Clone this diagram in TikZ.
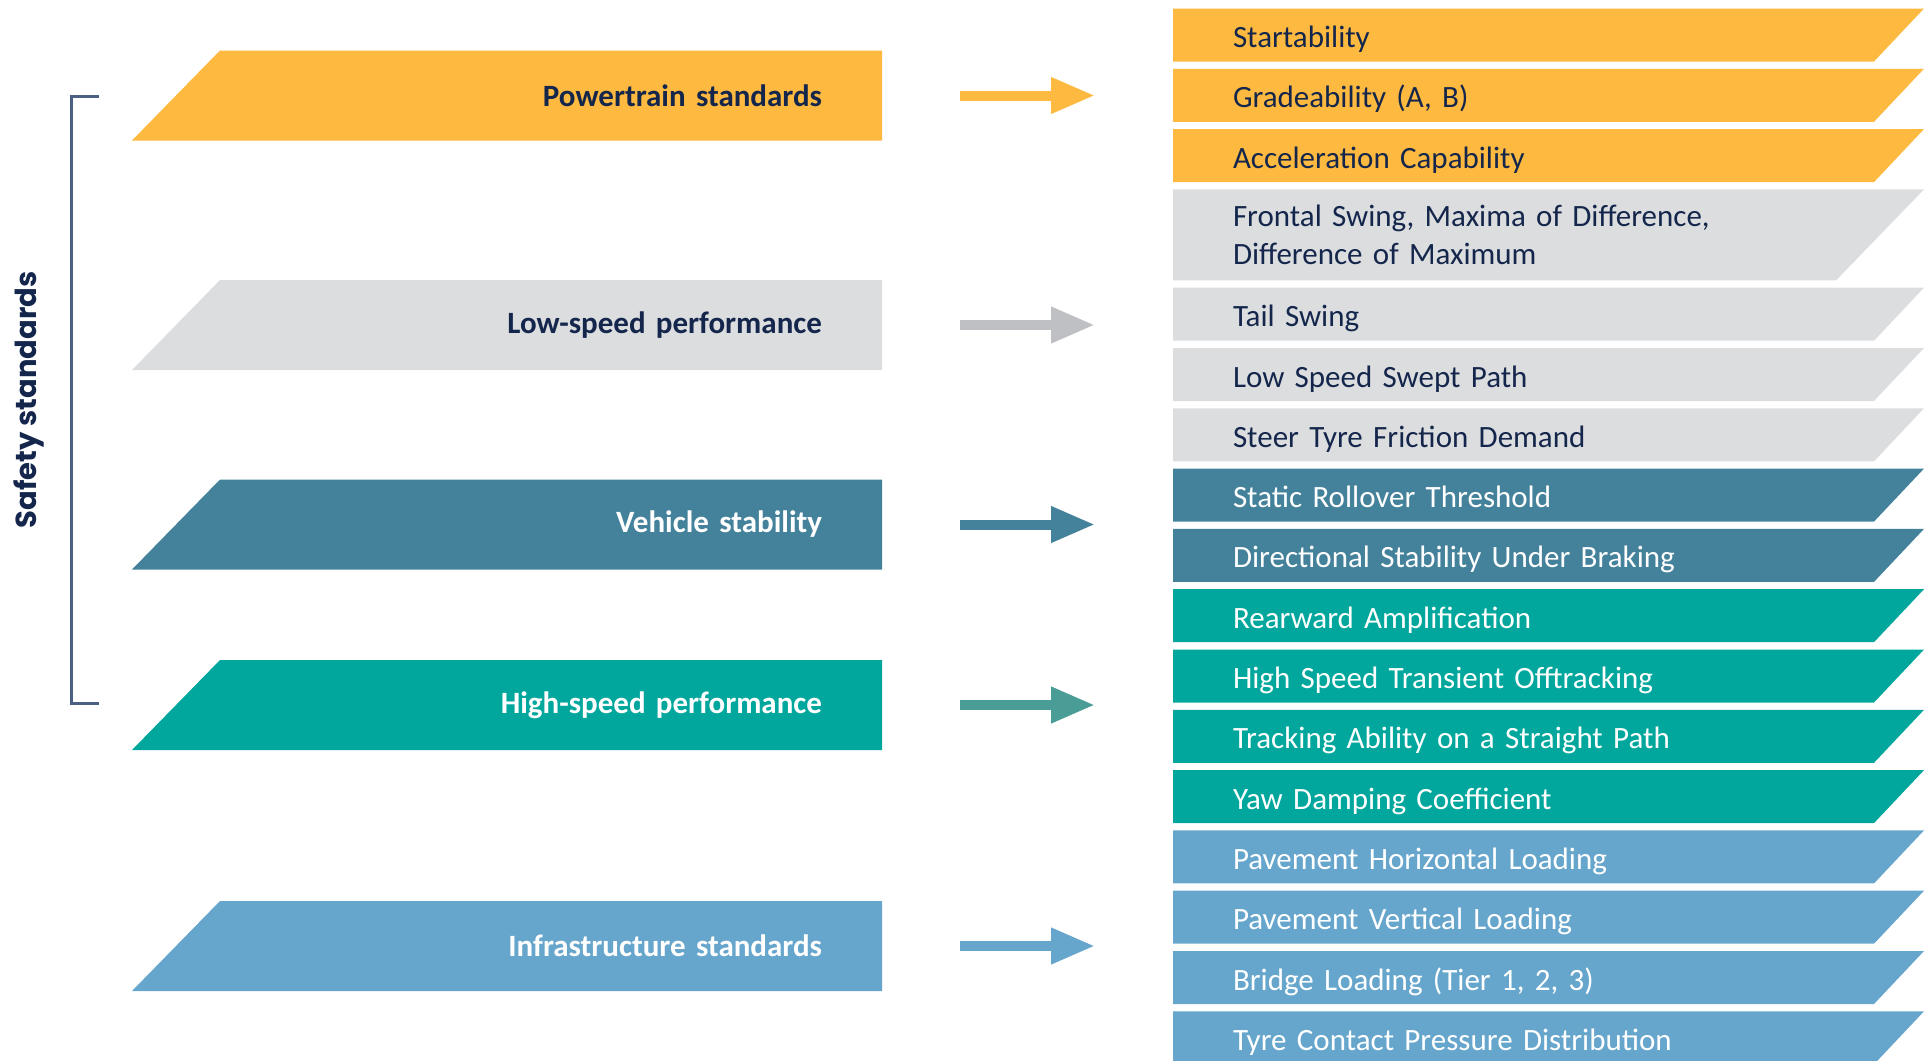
\documentclass[tikz,border=0pt]{standalone}
\usepackage{fontspec}
\setmainfont{Carlito}
\newfontfamily\safetyfont{Poppins}
\usetikzlibrary{positioning,arrows.meta}

\definecolor{orangeC}{HTML}{FDB940}
\definecolor{greyC}{HTML}{DCDDDF}
\definecolor{slateC}{HTML}{44829B}
\definecolor{tealC}{HTML}{01A79C}
\definecolor{skyC}{HTML}{67A6CC}
\definecolor{navyC}{HTML}{14264B}
\definecolor{greyArrow}{HTML}{BEC0C4}
\definecolor{tealArrow}{HTML}{4A9C96}
\definecolor{braceC}{HTML}{4C6086}

\tikzset{
  LeftBox/.style = {minimum width=375pt, minimum height=45pt,
                    inner xsep=30pt, inner ysep=0pt, outer sep=0pt,
                    text width=315pt, align=right,
                    font=\bfseries\fontsize{15.5}{19}\selectfont,
                    path picture={\fill[#1]
                      (path picture bounding box.south west)
                      -- ([xshift=44pt]path picture bounding box.north west)
                      -- (path picture bounding box.north east)
                      -- (path picture bounding box.south east) -- cycle;}},
  rslant/.store in = \rslant, rslant = 25pt,
  RightBox/.style = {minimum width=375.5pt, minimum height=26.5pt,
                     inner xsep=30pt, inner ysep=0pt, outer sep=0pt,
                     text width=315.5pt, align=left,
                     text height=13.5pt, text depth=1pt,
                     font=\fontsize{15.5}{19}\selectfont,
                     path picture={\fill[#1]
                       (path picture bounding box.south west)
                       -- (path picture bounding box.north west)
                       -- (path picture bounding box.north east)
                       -- ([xshift=-\rslant]path picture bounding box.south east) -- cycle;}},
  Arrow/.style = {draw=#1, line width=5pt,
                  -{Triangle[length=22pt,width=17pt]}}
}

\begin{document}
\begin{tikzpicture}[x=0.5pt, y=-0.5pt, node distance=3.65pt]
\useasboundingbox (0,0) rectangle (1932,1060);

% groups on the left
\node[LeftBox=orangeC, text=navyC] (powertrain) at (507,95.5) {Powertrain standards};
\node[LeftBox=greyC,   text=navyC] (lowspeed)   at (507,325)  {Low-speed performance};
\node[LeftBox=slateC,  text=white] (stability)  at (507,524.5) {Vehicle stability};
\node[LeftBox=tealC,   text=white] (highspeed)  at (507,705)  {High-speed performance};
\node[LeftBox=skyC,    text=white] (infra)      at (507,946)  {Infrastructure standards};

% measures on the right
\node[RightBox=orangeC, text=navyC] (start) at (1548.5,35) {Startability};
\node[RightBox=orangeC, text=navyC, below=of start] (grade) {Gradeability (A, B)};
\node[RightBox=orangeC, text=navyC, below=of grade] (accel) {Acceleration Capability};
\node[RightBox=greyC, text=navyC, below=of accel, minimum height=45.5pt, rslant=44pt,
      text height={}, text depth={}] (frontal)
  {Frontal Swing, Maxima of Difference,\\ Difference of Maximum};
\node[RightBox=greyC, text=navyC, below=of frontal] (tail) {Tail Swing};
\node[RightBox=greyC, text=navyC, below=of tail] (swept) {Low Speed Swept Path};
\node[RightBox=greyC, text=navyC, below=of swept] (steer) {Steer Tyre Friction Demand};
\node[RightBox=slateC, text=white, below=of steer] (rollover) {Static Rollover Threshold};
\node[RightBox=slateC, text=white, below=of rollover] (braking) {Directional Stability Under Braking};
\node[RightBox=tealC, text=white, below=of braking] (rearward) {Rearward Amplification};
\node[RightBox=tealC, text=white, below=of rearward] (transient) {High Speed Transient Offtracking};
\node[RightBox=tealC, text=white, below=of transient] (tracking) {Tracking Ability on a Straight Path};
\node[RightBox=tealC, text=white, below=of tracking] (yaw) {Yaw Damping Coefficient};
\node[RightBox=skyC, text=white, below=of yaw] (pavh) {Pavement Horizontal Loading};
\node[RightBox=skyC, text=white, below=of pavh] (pavv) {Pavement Vertical Loading};
\node[RightBox=skyC, text=white, below=of pavv] (bridge) {Bridge Loading (Tier 1, 2, 3)};
\node[RightBox=skyC, text=white, below=of bridge] (tyre) {Tyre Contact Pressure Distribution};

% arrows
\draw[Arrow=orangeC]   ([xshift=39pt]powertrain.east) -- ([xshift=-39pt]powertrain.east -| grade.west);
\draw[Arrow=greyArrow] ([xshift=39pt]lowspeed.east)   -- ([xshift=-39pt]lowspeed.east -| grade.west);
\draw[Arrow=slateC]    ([xshift=39pt]stability.east)  -- ([xshift=-39pt]stability.east -| grade.west);
\draw[Arrow=tealArrow] ([xshift=39pt]highspeed.east)  -- ([xshift=-39pt]highspeed.east -| grade.west);
\draw[Arrow=skyC]      ([xshift=39pt]infra.east)      -- ([xshift=-39pt]infra.east -| grade.west);

% bracket
\coordinate (brtop) at (99,96);
\coordinate (brbot) at (99,703);
\draw[braceC, line width=1.5pt] (brtop) -- ++(-28,0) |- (brbot);
\node[rotate=90, text=navyC, font=\safetyfont\bfseries\fontsize{14.5}{17}\selectfont] (safety) at (29,400) {Safety standards};

\end{tikzpicture}
\end{document}
